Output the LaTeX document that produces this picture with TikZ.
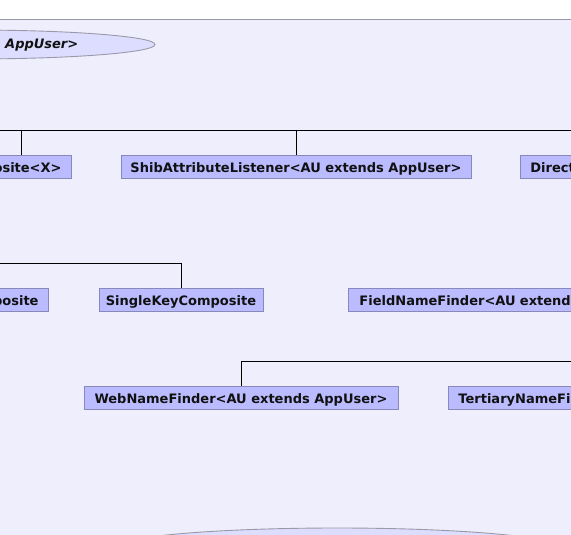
\documentclass[tikz,border=0pt]{standalone}
\usepackage{fontspec}
\setmainfont{DejaVu Sans}
\usetikzlibrary{shapes.geometric}
\definecolor{bgc}{HTML}{EEEEFC}
\definecolor{boxfill}{HTML}{BBBBFF}
\definecolor{boxline}{HTML}{8888BB}
\definecolor{ellfill}{HTML}{DDDDFF}
\definecolor{ellline}{HTML}{9999AA}
\definecolor{txt}{HTML}{111111}
\tikzset{
  cls/.style={draw=boxline, fill=boxfill, line width=0.9pt, minimum height=23pt, inner xsep=5pt, inner ysep=0pt,
    text height=12pt, text depth=1pt,
    font=\fontsize{13}{15}\selectfont\bfseries, text=txt},
  clspart/.style={cls, inner xsep=10pt},
  iface/.style={ellipse, draw=ellline, fill=ellfill, line width=0.9pt, inner sep=0pt},
  link/.style={draw=black, line width=0.8pt}
}
\begin{document}
\begin{tikzpicture}[x=1pt,y=-1pt]
\useasboundingbox (0,0) rectangle (571,535);
\clip (0,0) rectangle (571,535);
\fill[white] (0,0) rectangle (571,19);
\fill[bgc] (0,19) rectangle (571,535);
\draw[ellline, line width=0.9pt] (0,19) -- (571,19);
% interfaces (ellipses)
\node[iface, minimum width=370pt, minimum height=29pt] (itop) at (-30,44.5) {};
\node[font=\fontsize{13}{15}\selectfont\bfseries\itshape, text=txt, anchor=base west, inner sep=0pt] (itoptext) at (5,48.5) {AppUser>};
\node[iface, minimum width=448pt, minimum height=40pt] (ibot) at (337,548) {};
% row 1
\node[clspart, anchor=east, text width=112pt, align=right] (b1) at (72,166.5) {osite<X>};
\node[cls, minimum width=350pt] (b2) at (296,166.5) {ShibAttributeListener<AU extends AppUser>};
\node[clspart, anchor=west, text width=100pt, align=left] (b3) at (520,166.5) {Direct};
% row 2
\node[clspart, anchor=east, text width=100pt, align=right] (b4) at (49,299.5) {posite};
\node[cls, minimum width=164pt] (b5) at (181,299.5) {SingleKeyComposite};
\node[clspart, anchor=west, text width=260pt, align=left, inner xsep=11pt] (b6) at (348,299.5) {FieldNameFinder<AU extends};
% row 3
\node[cls, minimum width=314pt] (b7) at (241,398) {WebNameFinder<AU extends AppUser>};
\node[clspart, anchor=west, text width=200pt, align=left] (b8) at (448,398) {TertiaryNameFin};
% buses
\coordinate (bus1L) at (-10,130);
\coordinate (bus1R) at (590,130);
\coordinate (j1) at (21,130);
\coordinate (bus2L) at (-10,263);
\coordinate (bus3R) at (590,361);
\draw[link] (bus1L) -- (bus1R);
\draw[link] (j1) -- (j1 |- b1.north);
\draw[link] (b2.north) -- (b2.north |- bus1L);
\draw[link] (bus2L) -- (bus2L -| b5.north) -- (b5.north);
\draw[link] (bus3R) -- (bus3R -| b7.north) -- (b7.north);
\end{tikzpicture}
\end{document}
